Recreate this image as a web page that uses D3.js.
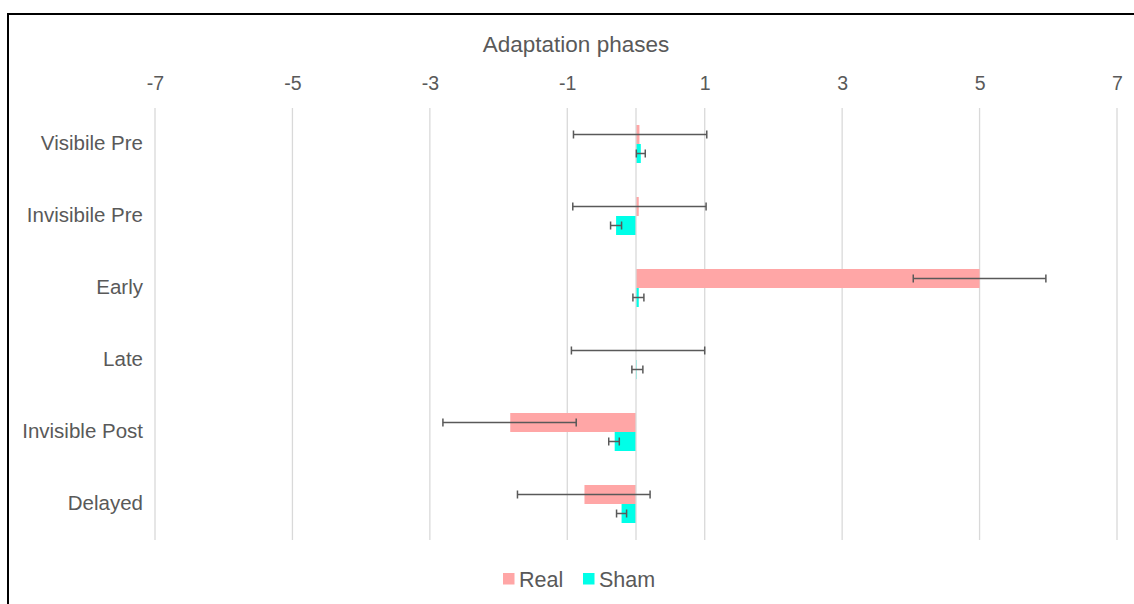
<!DOCTYPE html>
<html>
<head>
<meta charset="utf-8">
<script src="https://cdn.jsdelivr.net/npm/d3@7"></script>
<style>
  body { margin: 0; background: #fff; }
  text { font-family: "Liberation Sans", Arial, sans-serif; fill: #595959; }
</style>
</head>
<body>
<div class="chart"></div>
<script>
// adaptation phases, real vs sham
var phases = ["Visibile Pre", "Invisibile Pre", "Early", "Late", "Invisible Post", "Delayed"];
var realVals = [0.05, 0.04, 5.0, 0.0, -1.83, -0.75];
var realErr = [0.97, 0.97, 0.965, 0.97, 0.97, 0.965];
var realErrCenter = [0.06, 0.05, 5.0, 0.03, -1.84, -0.76];
var shamVals = [0.07, -0.29, 0.04, 0.01, -0.31, -0.21];
var shamErr = [0.065, 0.08, 0.08, 0.08, 0.077, 0.073];
var shamErrCenter = [0.07, -0.29, 0.035, 0.02, -0.32, -0.21];
var ticks = [-7, -5, -3, -1, 1, 3, 5, 7];
var seriesNames = ["Real", "Sham"];
var colors = ["#ffa6a6", "#00ffe8"];

var W = 1134, H = 604;
var svg = d3.select(".chart").append("svg")
  .attr("width", W)
  .attr("height", H);

// outer frame (only top and left edges show in the shot)
svg.append("rect")
  .attr("x", 8).attr("y", 14)
  .attr("width", 1200).attr("height", 700)
  .attr("fill", "#fff")
  .attr("stroke", "#000")
  .attr("stroke-width", 2);

var x = d3.scaleLinear().domain([-7, 7]).range([155, 1117]);
var y = d3.scaleBand().domain(phases).range([108, 540]);
var barH = 19;

// gridlines
svg.append("g").selectAll("line").data(ticks).enter()
  .append("line")
  .attr("x1", function(d) { return x(d); })
  .attr("x2", function(d) { return x(d); })
  .attr("y1", 108).attr("y2", 540)
  .attr("stroke", "#d9d9d9")
  .attr("stroke-width", 1.3);

// top axis labels (plain hyphen for the minus sign)
var ax = svg.append("g")
  .attr("transform", "translate(0,89.5)")
  .call(d3.axisTop(x).tickValues(ticks).tickSize(0).tickPadding(0)
    .tickFormat(function(d) { return String(d); }));
ax.select(".domain").remove();
ax.selectAll("text")
  .attr("dy", 0)
  .attr("font-size", 19.5)
  .style("font-family", "'Liberation Sans', Arial, sans-serif")
  .attr("fill", "#595959");

// title
svg.append("text")
  .attr("x", 576).attr("y", 52)
  .attr("text-anchor", "middle")
  .attr("font-size", 22.5)
  .text("Adaptation phases");

// bars
var rows = phases.map(function(p, i) {
  return [
    {phase: p, s: 0, v: realVals[i], c: realErrCenter[i], e: realErr[i]},
    {phase: p, s: 1, v: shamVals[i], c: shamErrCenter[i], e: shamErr[i]}
  ];
}).flat();

var bars = svg.append("g");
bars.selectAll("rect").data(rows).enter()
  .append("rect")
  .attr("x", function(d) { return x(Math.min(0, d.v)); })
  .attr("width", function(d) { return Math.abs(x(d.v) - x(0)); })
  .attr("y", function(d) { return y(d.phase) + y.bandwidth() / 2 - barH + d.s * barH; })
  .attr("height", barH)
  .attr("fill", function(d) { return colors[d.s]; });

// category axis line at zero
svg.append("line")
  .attr("x1", x(0)).attr("x2", x(0))
  .attr("y1", 108).attr("y2", 540)
  .attr("stroke", "#d9d9d9")
  .attr("stroke-width", 1.3);

// error bars
var eb = svg.append("g").attr("stroke", "#595959").attr("stroke-width", 1.5);
rows.forEach(function(d) {
  var cy = y(d.phase) + y.bandwidth() / 2 - barH / 2 + d.s * barH;
  eb.append("line")
    .attr("x1", x(d.c - d.e)).attr("x2", x(d.c + d.e))
    .attr("y1", cy).attr("y2", cy);
  [d.c - d.e, d.c + d.e].forEach(function(v) {
    eb.append("line")
      .attr("x1", x(v)).attr("x2", x(v))
      .attr("y1", cy - 4).attr("y2", cy + 4);
  });
});

// category labels
svg.append("g").selectAll("text").data(phases).enter()
  .append("text")
  .attr("x", 143)
  .attr("y", function(d) { return y(d) + y.bandwidth() / 2; })
  .attr("dy", "0.3em")
  .attr("text-anchor", "end")
  .attr("font-size", 20.5)
  .text(function(d) { return d; });

// legend
var lx = [503, 583];
var legend = svg.append("g");
seriesNames.forEach(function(n, i) {
  legend.append("rect")
    .attr("x", lx[i]).attr("y", 573)
    .attr("width", 11.5).attr("height", 11.5)
    .attr("fill", colors[i]);
  legend.append("text")
    .attr("x", lx[i] + 16).attr("y", 579)
    .attr("dy", "0.35em")
    .attr("font-size", 21.5)
    .text(n);
});
</script>
</body>
</html>
